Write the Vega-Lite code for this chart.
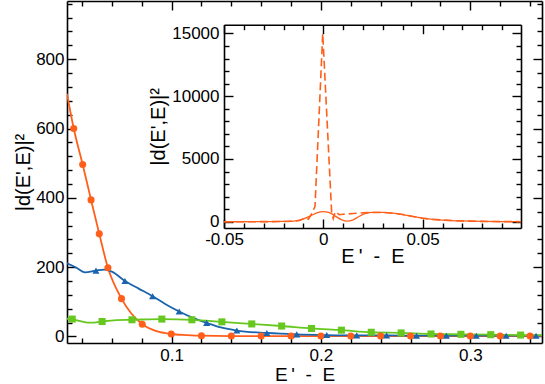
{
  "$schema": "https://vega.github.io/schema/vega-lite/v6.json",
  "width": 475,
  "height": 342,
  "autosize": "none",
  "padding": {"left": 67, "top": 1, "right": 3, "bottom": 41},
  "background": "white",
  "config": {
    "view": {"stroke": null},
    "axis": {
      "grid": false,
      "domainColor": "black",
      "domainWidth": 1.6,
      "tickColor": "black",
      "tickWidth": 1.4,
      "labelFont": "Liberation Sans",
      "labelFontSize": 17,
      "labelColor": "black",
      "labelOverlap": false,
      "labelFlush": false,
      "titleFont": "Liberation Sans",
      "titleFontSize": 20,
      "titleFontWeight": "normal",
      "titleColor": "black"
    }
  },
  "datasets": {
    "main": [
      {"s": "o", "x": 0.030, "y": 700, "m": 0},
      {"s": "o", "x": 0.0345, "y": 600, "m": 1},
      {"s": "o", "x": 0.0405, "y": 496, "m": 1},
      {"s": "o", "x": 0.0461, "y": 394, "m": 1},
      {"s": "o", "x": 0.0516, "y": 296, "m": 1},
      {"s": "o", "x": 0.0574, "y": 198, "m": 1},
      {"s": "o", "x": 0.0665, "y": 109, "m": 1},
      {"s": "o", "x": 0.0804, "y": 35, "m": 1},
      {"s": "o", "x": 0.090, "y": 15, "m": 0},
      {"s": "o", "x": 0.0998, "y": 7, "m": 1},
      {"s": "o", "x": 0.110, "y": 4, "m": 0},
      {"s": "o", "x": 0.120, "y": 2, "m": 1},
      {"s": "o", "x": 0.140, "y": 1, "m": 1},
      {"s": "o", "x": 0.160, "y": 1, "m": 1},
      {"s": "o", "x": 0.180, "y": 1, "m": 1},
      {"s": "o", "x": 0.200, "y": 1, "m": 1},
      {"s": "o", "x": 0.220, "y": 1, "m": 1},
      {"s": "o", "x": 0.240, "y": 1, "m": 1},
      {"s": "o", "x": 0.260, "y": 1, "m": 1},
      {"s": "o", "x": 0.280, "y": 1, "m": 1},
      {"s": "o", "x": 0.300, "y": 1, "m": 1},
      {"s": "o", "x": 0.320, "y": 1, "m": 1},
      {"s": "o", "x": 0.340, "y": 1, "m": 1},
      {"s": "o", "x": 0.348, "y": 1, "m": 0},
      {"s": "b", "x": 0.030, "y": 211, "m": 0},
      {"s": "b", "x": 0.036, "y": 199, "m": 0},
      {"s": "b", "x": 0.042, "y": 185, "m": 0},
      {"s": "b", "x": 0.0494, "y": 190, "m": 1},
      {"s": "b", "x": 0.055, "y": 193, "m": 0},
      {"s": "b", "x": 0.060, "y": 187, "m": 0},
      {"s": "b", "x": 0.0688, "y": 160, "m": 1},
      {"s": "b", "x": 0.078, "y": 138, "m": 0},
      {"s": "b", "x": 0.0873, "y": 116, "m": 1},
      {"s": "b", "x": 0.096, "y": 93, "m": 0},
      {"s": "b", "x": 0.1051, "y": 72, "m": 1},
      {"s": "b", "x": 0.114, "y": 54, "m": 0},
      {"s": "b", "x": 0.1235, "y": 39, "m": 1},
      {"s": "b", "x": 0.133, "y": 26, "m": 0},
      {"s": "b", "x": 0.1437, "y": 17, "m": 1},
      {"s": "b", "x": 0.1638, "y": 10, "m": 1},
      {"s": "b", "x": 0.1838, "y": 6, "m": 1},
      {"s": "b", "x": 0.2039, "y": 4, "m": 1},
      {"s": "b", "x": 0.2240, "y": 3, "m": 1},
      {"s": "b", "x": 0.2440, "y": 3, "m": 1},
      {"s": "b", "x": 0.2640, "y": 2, "m": 1},
      {"s": "b", "x": 0.2840, "y": 2, "m": 1},
      {"s": "b", "x": 0.3040, "y": 2, "m": 1},
      {"s": "b", "x": 0.3240, "y": 2, "m": 1},
      {"s": "b", "x": 0.3440, "y": 2, "m": 1},
      {"s": "b", "x": 0.348, "y": 2, "m": 0},
      {"s": "g", "x": 0.030, "y": 51, "m": 0},
      {"s": "g", "x": 0.0335, "y": 50, "m": 1},
      {"s": "g", "x": 0.039, "y": 44, "m": 0},
      {"s": "g", "x": 0.044, "y": 40, "m": 0},
      {"s": "g", "x": 0.048, "y": 40, "m": 0},
      {"s": "g", "x": 0.0535, "y": 43, "m": 1},
      {"s": "g", "x": 0.063, "y": 47, "m": 0},
      {"s": "g", "x": 0.0735, "y": 48, "m": 1},
      {"s": "g", "x": 0.0935, "y": 50, "m": 1},
      {"s": "g", "x": 0.1136, "y": 48, "m": 1},
      {"s": "g", "x": 0.1337, "y": 42, "m": 1},
      {"s": "g", "x": 0.1537, "y": 36, "m": 1},
      {"s": "g", "x": 0.1737, "y": 30, "m": 1},
      {"s": "g", "x": 0.1937, "y": 23, "m": 1},
      {"s": "g", "x": 0.2137, "y": 18, "m": 1},
      {"s": "g", "x": 0.2337, "y": 12, "m": 1},
      {"s": "g", "x": 0.2537, "y": 10, "m": 1},
      {"s": "g", "x": 0.2737, "y": 7, "m": 1},
      {"s": "g", "x": 0.2937, "y": 6, "m": 1},
      {"s": "g", "x": 0.3137, "y": 5, "m": 1},
      {"s": "g", "x": 0.3337, "y": 4, "m": 1},
      {"s": "g", "x": 0.348, "y": 4, "m": 0}
    ],
    "ins": [
      {"s": "s", "x": -0.05, "y": 0},
      {"s": "s", "x": -0.03, "y": 5},
      {"s": "s", "x": -0.02, "y": 20},
      {"s": "s", "x": -0.015, "y": 50},
      {"s": "s", "x": -0.012, "y": 120},
      {"s": "s", "x": -0.009, "y": 280},
      {"s": "s", "x": -0.006, "y": 500},
      {"s": "s", "x": -0.003, "y": 720},
      {"s": "s", "x": 0.0, "y": 800},
      {"s": "s", "x": 0.003, "y": 720},
      {"s": "s", "x": 0.006, "y": 450},
      {"s": "s", "x": 0.009, "y": 170},
      {"s": "s", "x": 0.012, "y": 40},
      {"s": "s", "x": 0.015, "y": 150},
      {"s": "s", "x": 0.018, "y": 420},
      {"s": "s", "x": 0.021, "y": 640},
      {"s": "s", "x": 0.025, "y": 740},
      {"s": "s", "x": 0.030, "y": 740},
      {"s": "s", "x": 0.035, "y": 680},
      {"s": "s", "x": 0.040, "y": 570},
      {"s": "s", "x": 0.045, "y": 420},
      {"s": "s", "x": 0.050, "y": 280},
      {"s": "s", "x": 0.055, "y": 190},
      {"s": "s", "x": 0.060, "y": 130},
      {"s": "s", "x": 0.070, "y": 60},
      {"s": "s", "x": 0.080, "y": 25},
      {"s": "s", "x": 0.090, "y": 8},
      {"s": "s", "x": 0.0995, "y": 3},
      {"s": "d", "x": -0.05, "y": 0},
      {"s": "d", "x": -0.03, "y": 5},
      {"s": "d", "x": -0.02, "y": 15},
      {"s": "d", "x": -0.015, "y": 40},
      {"s": "d", "x": -0.012, "y": 100},
      {"s": "d", "x": -0.009, "y": 300},
      {"s": "d", "x": -0.0075, "y": 200},
      {"s": "d", "x": -0.006, "y": 600},
      {"s": "d", "x": -0.0042, "y": 1200},
      {"s": "d", "x": -0.0003, "y": 15000},
      {"s": "d", "x": 0.0042, "y": 700},
      {"s": "d", "x": 0.005, "y": 250},
      {"s": "d", "x": 0.006, "y": 800},
      {"s": "d", "x": 0.008, "y": 560},
      {"s": "d", "x": 0.010, "y": 600},
      {"s": "d", "x": 0.015, "y": 650},
      {"s": "d", "x": 0.020, "y": 710},
      {"s": "d", "x": 0.025, "y": 740},
      {"s": "d", "x": 0.030, "y": 740},
      {"s": "d", "x": 0.035, "y": 680},
      {"s": "d", "x": 0.040, "y": 570},
      {"s": "d", "x": 0.045, "y": 420},
      {"s": "d", "x": 0.050, "y": 280},
      {"s": "d", "x": 0.055, "y": 190},
      {"s": "d", "x": 0.060, "y": 130},
      {"s": "d", "x": 0.070, "y": 60},
      {"s": "d", "x": 0.080, "y": 25},
      {"s": "d", "x": 0.090, "y": 8},
      {"s": "d", "x": 0.0995, "y": 3}
    ]
  },
  "layer": [
    {
      "data": {"name": "main"},
      "mark": {"type": "line", "interpolate": "monotone", "strokeWidth": 1.8, "clip": true},
      "encoding": {
        "x": {
          "field": "x", "type": "quantitative",
          "scale": {"domain": [0.03, 0.348], "nice": false, "zero": false},
          "axis": {
            "orient": "bottom",
            "values": [0.04, 0.06, 0.08, 0.1, 0.12, 0.14, 0.16, 0.18, 0.2, 0.22, 0.24, 0.26, 0.28, 0.3, 0.32, 0.34],
            "labelExpr": "abs(datum.value*10-round(datum.value*10))<0.001 ? format(datum.value,'.1f') : ''",
            "tickSize": {"condition": {"test": "abs(datum.value*10-round(datum.value*10))<0.001", "value": -9}, "value": -5},
            "labelPadding": 13,
            "title": "E\u2009'\u00a0\u00a0-\u00a0\u00a0E",
            "titleFontSize": 19,
            "titlePadding": -2
          }
        },
        "y": {
          "field": "y", "type": "quantitative",
          "scale": {"domain": [-19, 968], "nice": false, "zero": false},
          "axis": {
            "orient": "left",
            "values": [0, 40, 80, 120, 160, 200, 240, 280, 320, 360, 400, 440, 480, 520, 560, 600, 640, 680, 720, 760, 800, 840, 880, 920, 960],
            "labelExpr": "datum.value % 200 == 0 ? format(datum.value,'d') : ''",
            "tickSize": {"condition": {"test": "datum.value % 200 == 0", "value": -9}, "value": -5},
            "labelPadding": 12,
            "title": "|d(E',E)|\u00b2",
            "titlePadding": 2
          }
        },
        "color": {
          "field": "s", "type": "nominal",
          "scale": {"domain": ["o", "b", "g", "s", "d"], "range": ["#ff5f1a", "#1a64ad", "#66c81e", "#ff5f1a", "#ff5f1a"]},
          "legend": null
        }
      }
    },
    {
      "data": {"name": "main"},
      "transform": [{"filter": "datum.m == 1"}],
      "mark": {"type": "point", "filled": true, "opacity": 1, "size": 50, "clip": true},
      "encoding": {
        "x": {
          "field": "x", "type": "quantitative",
          "scale": {"domain": [0.03, 0.348], "nice": false, "zero": false},
          "axis": {
            "orient": "top",
            "values": [0.04, 0.06, 0.08, 0.1, 0.12, 0.14, 0.16, 0.18, 0.2, 0.22, 0.24, 0.26, 0.28, 0.3, 0.32, 0.34],
            "labels": false,
            "tickSize": {"condition": {"test": "abs(datum.value*10-round(datum.value*10))<0.001", "value": -9}, "value": -5},
            "title": null
          }
        },
        "y": {
          "field": "y", "type": "quantitative",
          "scale": {"domain": [-19, 968], "nice": false, "zero": false},
          "axis": {
            "orient": "right",
            "values": [0, 40, 80, 120, 160, 200, 240, 280, 320, 360, 400, 440, 480, 520, 560, 600, 640, 680, 720, 760, 800, 840, 880, 920, 960],
            "labels": false,
            "tickSize": {"condition": {"test": "datum.value % 200 == 0", "value": -9}, "value": -5},
            "title": null
          }
        },
        "color": {"field": "s", "type": "nominal", "legend": null},
        "shape": {
          "field": "s", "type": "nominal",
          "scale": {"domain": ["o", "b", "g"], "range": ["circle", "triangle-up", "square"]},
          "legend": null
        }
      }
    },
    {
      "data": {"name": "ins"},
      "transform": [{"filter": "datum.s == 's'"}],
      "mark": {"type": "line", "interpolate": "monotone", "strokeWidth": 1.3},
      "encoding": {
        "x": {
          "field": "x", "type": "quantitative",
          "scale": {"domain": [-0.05, 0.0995], "nice": false, "zero": false, "range": [157, 454]},
          "axis": {
            "orient": "bottom",
            "offset": -115,
            "values": [-0.05, -0.04, -0.03, -0.02, -0.01, 0, 0.01, 0.02, 0.03, 0.04, 0.05, 0.06, 0.07, 0.08, 0.09],
            "labelExpr": "abs(datum.value+0.05)<0.001 ? '-0.05' : abs(datum.value)<0.001 ? '0' : abs(datum.value-0.05)<0.001 ? '0.05' : ''",
            "tickSize": {"condition": {"test": "abs(datum.value*20-round(datum.value*20))<0.001", "value": -9}, "value": -5},
            "labelPadding": 12,
            "title": "E\u2009'\u00a0\u00a0-\u00a0\u00a0E",
            "titlePadding": -5
          }
        },
        "y": {
          "field": "y", "type": "quantitative",
          "scale": {"domain": [-500, 15700], "nice": false, "zero": false, "range": [227, 23.7]},
          "axis": {
            "orient": "left",
            "offset": -157,
            "values": [0, 1000, 2000, 3000, 4000, 5000, 6000, 7000, 8000, 9000, 10000, 11000, 12000, 13000, 14000, 15000],
            "labelExpr": "datum.value % 5000 == 0 ? format(datum.value,'d') : ''",
            "tickSize": {"condition": {"test": "datum.value % 5000 == 0", "value": -9}, "value": -5},
            "labelPadding": 14,
            "title": "|d(E',E)|\u00b2",
            "titlePadding": 3
          }
        },
        "color": {"field": "s", "type": "nominal", "legend": null}
      }
    },
    {
      "data": {"name": "ins"},
      "transform": [{"filter": "datum.s == 'd'"}],
      "mark": {"type": "line", "interpolate": "linear", "strokeWidth": 1.6, "strokeDash": [8, 4]},
      "encoding": {
        "x": {
          "field": "x", "type": "quantitative",
          "scale": {"domain": [-0.05, 0.0995], "nice": false, "zero": false, "range": [157, 454]},
          "axis": {
            "orient": "top",
            "offset": -23.7,
            "values": [-0.05, -0.04, -0.03, -0.02, -0.01, 0, 0.01, 0.02, 0.03, 0.04, 0.05, 0.06, 0.07, 0.08, 0.09],
            "labels": false,
            "tickSize": {"condition": {"test": "abs(datum.value*20-round(datum.value*20))<0.001", "value": -9}, "value": -5},
            "title": null
          }
        },
        "y": {
          "field": "y", "type": "quantitative",
          "scale": {"domain": [-500, 15700], "nice": false, "zero": false, "range": [227, 23.7]},
          "axis": {
            "orient": "right",
            "offset": -21,
            "values": [0, 1000, 2000, 3000, 4000, 5000, 6000, 7000, 8000, 9000, 10000, 11000, 12000, 13000, 14000, 15000],
            "labels": false,
            "tickSize": {"condition": {"test": "datum.value % 5000 == 0", "value": -9}, "value": -5},
            "title": null
          }
        },
        "color": {"field": "s", "type": "nominal", "legend": null}
      }
    }
  ],
  "resolve": {"scale": {"x": "independent", "y": "independent"}}
}
